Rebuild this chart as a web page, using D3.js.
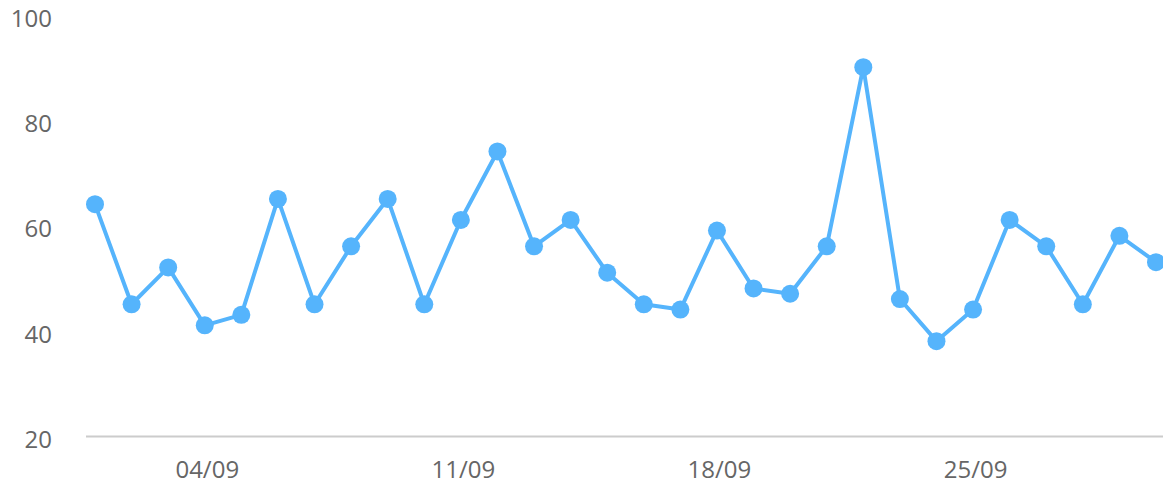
<!DOCTYPE html>
<html>
<head>
<meta charset="utf-8">
<script src="https://cdn.jsdelivr.net/npm/d3@7"></script>
<style>
  html, body { margin: 0; padding: 0; background: #fff; }
  text { font-family: "Open Sans", sans-serif; }
</style>
</head>
<body>
<div id="chart"></div>
<script>
// daily values, September 2017
const days = d3.range(1, 31).map(d => new Date(2017, 8, d));
const values = [64, 45, 52, 41, 43, 65, 45, 56, 65, 45,
                61, 74, 56, 61, 51, 45, 44, 59, 48, 47,
                56, 90, 46, 38, 44, 61, 56, 45, 58, 53];
const yTicks = [20, 40, 60, 80, 100];

const width = 1163;
const height = 486;

const x = d3.scaleTime()
    .domain([days[0], days[days.length - 1]])
    .range([95, 1156]);
const y = d3.scaleLinear().domain([20, 100]).range([436, 14.5]);

const svg = d3.select("#chart").append("svg")
    .attr("width", width)
    .attr("height", height);

// y labels
svg.append("g")
    .selectAll("text")
    .data(yTicks)
    .join("text")
    .attr("x", 52)
    .attr("y", d => y(d))
    .attr("dy", "0.5em")
    .attr("text-anchor", "end")
    .attr("font-size", 24)
    .attr("fill", "#666")
    .text(d => d);

// baseline
svg.append("line")
    .attr("x1", 86)
    .attr("x2", width)
    .attr("y1", 436.5)
    .attr("y2", 436.5)
    .attr("stroke", "#ccc")
    .attr("stroke-width", 2);

// x labels, weekly
const fmt = d3.timeFormat("%d/%m");
svg.append("g")
    .selectAll("text")
    .data(x.ticks(d3.timeMonday))
    .join("text")
    .attr("x", d => x(d) + 2.5)
    .attr("y", 470)
    .attr("dy", "0.35em")
    .attr("text-anchor", "middle")
    .attr("font-size", 24)
    .attr("fill", "#666")
    .text(d => fmt(d));

const data = days.map((d, i) => ({date: d, value: values[i]}));

svg.append("path")
    .datum(data)
    .attr("fill", "none")
    .attr("stroke", "#55b4fc")
    .attr("stroke-width", 4)
    .attr("stroke-linejoin", "round")
    .attr("d", d3.line().x(d => x(d.date)).y(d => y(d.value)));

svg.append("g")
    .selectAll("circle")
    .data(data)
    .join("circle")
    .attr("cx", d => x(d.date))
    .attr("cy", d => y(d.value))
    .attr("r", 9)
    .attr("fill", "#55b4fc");
</script>
</body>
</html>
